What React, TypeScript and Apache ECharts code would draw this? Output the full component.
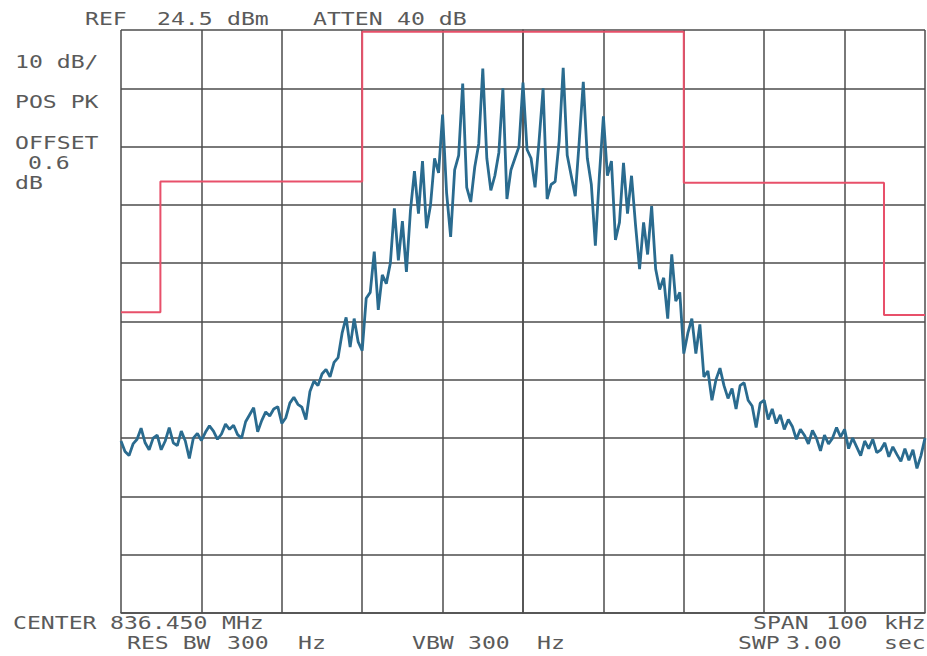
import React, { useEffect, useRef } from "react";
import * as echarts from "echarts";

// Frequency offset from center (kHz), trace sampled every 0.5 kHz across the 100 kHz span
const FREQ_START = -50;
const FREQ_STEP = 0.5;

// Trace level, dB relative to reference level (24.5 dBm), 10 dB/div
const traceDb = [
  -70.5, -72.3, -73.0, -71.0, -70.2, -68.3, -70.8, -72.0, -70.0, -69.5,
  -72.0, -70.5, -68.2, -70.8, -71.3, -68.8, -70.5, -73.5, -70.0, -69.2,
  -70.4, -69.0, -67.9, -68.8, -70.2, -69.3, -67.6, -68.5, -67.8, -69.4,
  -70.0, -67.2, -66.0, -64.8, -68.9, -67.0, -65.5, -66.2, -65.0, -64.6,
  -67.5, -66.5, -64.0, -63.0, -64.2, -64.7, -66.8, -62.0, -60.2, -61.0,
  -59.0, -58.2, -59.5, -57.0, -56.2, -52.0, -49.3, -54.4, -49.5, -53.5,
  -55.0, -46.0, -45.0, -38.0, -48.0, -42.0, -43.5, -40.0, -30.6, -39.5,
  -32.8, -41.5, -31.0, -24.2, -31.5, -22.5, -34.0, -30.0, -22.0, -24.5,
  -14.5, -28.0, -35.5, -24.0, -21.5, -9.2, -27.0, -29.5, -23.5, -19.5,
  -6.6, -22.0, -27.5, -25.0, -21.0, -10.0, -29.0, -24.0, -22.0, -20.0,
  -9.0, -20.5, -22.0, -27.0, -19.0, -10.0, -29.0, -26.5, -26.0, -19.0,
  -6.5, -21.5, -25.0, -28.5, -19.0, -8.9, -22.0, -26.5, -37.0, -25.0,
  -14.8, -25.0, -22.5, -36.0, -33.0, -22.8, -31.5, -25.0, -33.5, -41.0,
  -33.0, -38.5, -30.2, -41.0, -44.5, -42.5, -49.5, -38.5, -46.5, -45.0,
  -55.5, -52.0, -49.5, -55.5, -50.5, -59.5, -58.5, -63.5, -60.0, -58.0,
  -61.0, -63.2, -61.5, -65.0, -61.0, -60.5, -63.5, -64.5, -68.2, -64.0,
  -63.5, -66.8, -65.0, -67.5, -66.0, -68.5, -66.8, -68.0, -70.2, -68.5,
  -69.5, -71.0, -68.7, -70.0, -72.2, -69.5, -71.0, -70.0, -68.2, -69.8,
  -68.5, -71.8, -70.0, -71.5, -73.0, -70.5, -71.8, -70.2, -72.5, -72.0,
  -70.8, -73.2, -71.5, -72.8, -74.0, -71.8, -73.8, -72.0, -75.2, -73.0,
  -70.0,
];

// Limit mask (red)
const maskFreq = [-50, -45.1, -45.1, -20, -20, 20, 20, 44.9, 44.9, 50];
const maskDb = [-48.4, -48.4, -26, -26, -0.3, -0.3, -26.2, -26.2, -48.9, -48.9];

// Annotation texts (split into the word groups as printed)
const headerTexts = ["REF", "24.5", "dBm", "ATTEN", "40 dB"];
const leftTexts = ["10 dB/", "POS PK", "OFFSET", "0.6", "dB"];
const footerTop = ["CENTER", "836.450", "MHz", "SPAN", "100", "kHz"];
const footerBottom = ["RES BW", "300", "Hz", "VBW", "300", "Hz", "SWP", "3.00", "sec"];

const TEXT_COLOR = "#5a5a5a";
const FONT = '17px "DejaVu Sans Mono"';
const SX = 1.36;

function txt(text: string, x: number, y: number) {
  return {
    type: "text",
    x,
    y,
    scaleX: SX,
    silent: true,
    style: {
      text,
      x: 0,
      y: 0,
      fill: TEXT_COLOR,
      font: FONT,
      textAlign: "left",
      textVerticalAlign: "middle",
      verticalAlign: "middle",
    },
  };
}

export default function App() {
  const ref = useRef<HTMLDivElement>(null);

  useEffect(() => {
    if (!ref.current) return;
    const chart = echarts.init(ref.current, undefined, { renderer: "svg" });

    const traceData = traceDb.map((v, i) => [FREQ_START + i * FREQ_STEP, v]);
    const maskData = maskFreq.map((f, i) => [f, maskDb[i]]);

    const headerX = [85, 157, 227, 313, 397];
    const leftX = [15, 15, 15, 28, 15];
    const leftY = [62, 102, 143, 163, 183];
    const footTopX = [13, 110, 222, 753, 826, 884];
    const footBotX = [127, 227, 298, 412, 468, 537, 738, 786, 884];

    chart.setOption({
      animation: false,
      backgroundColor: "#ffffff",
      grid: { left: 121, right: 2, top: 30, bottom: 43, containLabel: false },
      xAxis: {
        type: "value",
        min: -50,
        max: 50,
        interval: 10,
        axisLabel: { show: false },
        axisTick: { show: false },
        axisLine: { show: true, onZero: false, lineStyle: { color: "#4d4d4d", width: 1.5 } },
        splitLine: { show: true, lineStyle: { color: "#4d4d4d", width: 1.5 } },
      },
      yAxis: {
        type: "value",
        min: -100,
        max: 0,
        interval: 10,
        axisLabel: { show: false },
        axisTick: { show: false },
        axisLine: { show: true, lineStyle: { color: "#4d4d4d", width: 1.5 } },
        splitLine: { show: true, lineStyle: { color: "#4d4d4d", width: 1.5 } },
      },
      series: [
        {
          type: "line",
          name: "Mask",
          data: maskData,
          showSymbol: false,
          symbol: "none",
          lineStyle: { color: "#e8506a", width: 2 },
          z: 3,
        },
        {
          type: "line",
          name: "Trace",
          data: traceData,
          showSymbol: false,
          symbol: "none",
          lineStyle: { color: "#2a6b8f", width: 2.8 },
          z: 4,
        },
      ],
      graphic: [
        ...headerTexts.map((t, i) => txt(t, headerX[i], 19)),
        ...leftTexts.map((t, i) => txt(t, leftX[i], leftY[i])),
        ...footerTop.map((t, i) => txt(t, footTopX[i], 623)),
        ...footerBottom.map((t, i) => txt(t, footBotX[i], 643)),
      ],
    });

    return () => chart.dispose();
  }, []);

  return (
    <div
      ref={ref}
      style={{ position: "fixed", left: 0, top: 0, width: 927, height: 656, background: "#fff" }}
    />
  );
}
